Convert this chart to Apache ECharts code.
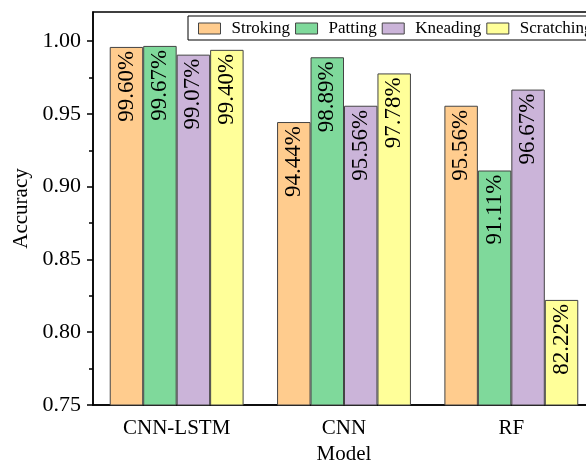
<!DOCTYPE html>
<html>
<head>
<meta charset="utf-8">
<script src="https://cdn.jsdelivr.net/npm/echarts@6/dist/echarts.min.js"></script>
<style>
  html, body { margin: 0; padding: 0; background: #fff; }
  #chart { width: 586px; height: 464px; }
</style>
</head>
<body>
<div id="chart"></div>
<script>
// Classification accuracy per model and gesture
const models = ['CNN-LSTM', 'CNN', 'RF'];
const gestures = ['Stroking', 'Patting', 'Kneading', 'Scratching'];
const stroking = [0.9960, 0.9444, 0.9556];
const patting = [0.9967, 0.9889, 0.9111];
const kneading = [0.9907, 0.9556, 0.9667];
const scratching = [0.9940, 0.9778, 0.8222];
const majorTicks = [0.75, 0.80, 0.85, 0.90, 0.95, 1.00];
const minorTicks = [0.775, 0.825, 0.875, 0.925, 0.975];

const seriesValues = [stroking, patting, kneading, scratching];
const colors = ['#FFCC8E', '#7FD99B', '#CBB4D9', '#FFFF99'];
const serif = "'Liberation Serif', 'Times New Roman', serif";

const chart = echarts.init(document.getElementById('chart'), null, { renderer: 'canvas' });

const series = gestures.map((name, i) => ({
  name: name,
  type: 'bar',
  data: seriesValues[i],
  barGap: '0%',
  barCategoryGap: '20%',
  itemStyle: { color: colors[i], borderColor: '#444', borderWidth: 1 },
  label: {
    show: true,
    position: 'insideTop',
    distance: 4,
    rotate: 90,
    align: 'right',
    verticalAlign: 'middle',
    color: '#000',
    fontFamily: serif,
    fontSize: 23,
    formatter: p => (p.value * 100).toFixed(2) + '%'
  }
}));

chart.setOption({
  animation: false,
  color: colors,
  textStyle: { fontFamily: serif },
  grid: {
    left: 93, width: 502, top: 12, bottom: 59,
    outerBoundsMode: 'none',
    show: true, borderColor: '#000', borderWidth: 1.5, backgroundColor: 'transparent'
  },
  legend: {
    data: gestures,
    left: 188, top: 16, width: 460,
    orient: 'horizontal',
    itemWidth: 22, itemHeight: 11, itemGap: 5,
    padding: [4, 8, 3, 10],
    borderColor: '#000', borderWidth: 1,
    icon: 'rect',
    itemStyle: { borderColor: '#444', borderWidth: 1 },
    textStyle: { fontFamily: serif, fontSize: 17, color: '#000', padding: [0, 0, 0, 6] }
  },
  xAxis: [
    {
      type: 'category',
      data: models,
      name: 'Model',
      nameLocation: 'middle',
      nameGap: 38,
      nameTextStyle: { fontFamily: serif, fontSize: 21, color: '#000' },
      axisLine: { lineStyle: { color: '#000', width: 1.5 } },
      axisTick: { alignWithLabel: true, length: 6, lineStyle: { color: '#000', width: 1.5 } },
      axisLabel: { margin: 13, fontFamily: serif, fontSize: 21, color: '#000' }
    },
    {
      type: 'category',
      data: models,
      position: 'bottom',
      axisLine: { show: false },
      axisTick: { length: 3, lineStyle: { color: '#000', width: 1.5 } },
      axisLabel: { show: false }
    }
  ],
  yAxis: [
    {
      type: 'value',
      min: 0.75, max: 1.02,
      name: 'Accuracy',
      nameLocation: 'middle',
      nameGap: 57,
      nameTextStyle: { fontFamily: serif, fontSize: 21, color: '#000' },
      axisLine: { show: true, lineStyle: { color: '#000', width: 1.5 } },
      axisTick: { show: true, length: 6, customValues: majorTicks, lineStyle: { color: '#000', width: 1.5 } },
      axisLabel: {
        margin: 12, fontFamily: serif, fontSize: 22, color: '#000',
        customValues: majorTicks,
        formatter: v => v.toFixed(2)
      },
      splitLine: { show: false }
    },
    {
      type: 'value',
      min: 0.75, max: 1.02,
      position: 'left',
      axisLine: { show: false },
      axisTick: { show: true, length: 4, customValues: minorTicks, lineStyle: { color: '#000', width: 1.5 } },
      axisLabel: { show: false },
      splitLine: { show: false }
    }
  ],
  series: series
});
</script>
</body>
</html>
